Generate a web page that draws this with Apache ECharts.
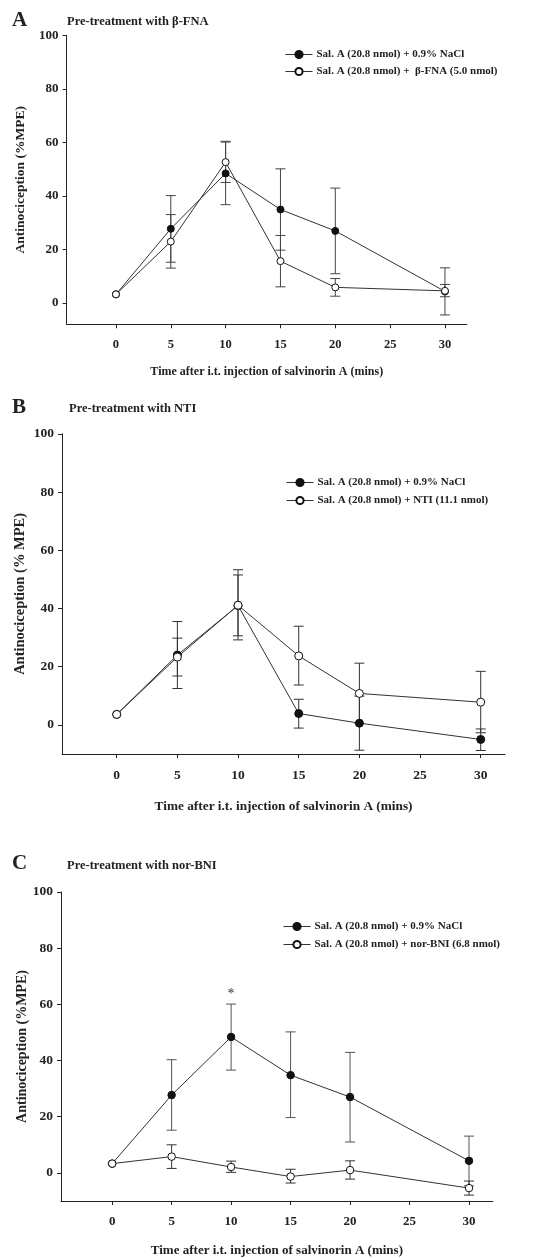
<!DOCTYPE html>
<html>
<head>
<meta charset="utf-8">
<script src="https://cdn.jsdelivr.net/npm/echarts@6/dist/echarts.min.js"></script>
<style>
html,body{margin:0;padding:0;background:#fff;}
#chart{width:541px;height:1258px;}
</style>
</head>
<body>
<div id="chart"></div>
<script>
// ---------- data ----------
const times = [0, 5, 10, 15, 20, 30];
const xTickLabels = [0, 5, 10, 15, 20, 25, 30];
const yTickLabels = [0, 20, 40, 60, 80, 100];

// Panel A : beta-FNA
const aNaClMean = [3.2, 27.7, 48.4, 34.9, 26.9, 4.3];
const aNaClLow  = [3.2, 15.2, 36.7, 19.7, 10.9, -4.5];
const aNaClHigh = [3.2, 40.1, 60.1, 50.1, 42.9, 13.1];
const aFnaMean  = [3.2, 22.9, 52.6, 15.6, 5.8, 4.5];
const aFnaLow   = [3.2, 13.0, 45.0, 6.0, 2.5, 2.3];
const aFnaHigh  = [3.2, 33.0, 60.4, 25.2, 9.1, 6.9];

// Panel B : NTI
const bNaClMean = [3.6, 24.0, 41.0, 3.9, 0.6, -5.0];
const bNaClLow  = [3.6, 16.8, 30.6, -1.1, -8.7, -8.8];
const bNaClHigh = [3.6, 29.8, 51.5, 8.8, 9.9, -1.4];
const bNtiMean  = [3.6, 23.3, 41.1, 23.7, 10.8, 7.8];
const bNtiLow   = [3.6, 12.5, 29.2, 13.7, 0.5, -2.7];
const bNtiHigh  = [3.6, 35.5, 53.3, 33.9, 21.2, 18.4];

// Panel C : nor-BNI
const cNaClMean = [3.3, 27.7, 48.4, 34.8, 27.0, 4.3];
const cNaClLow  = [3.3, 15.2, 36.6, 19.7, 11.0, -4.6];
const cNaClHigh = [3.3, 40.3, 60.1, 50.2, 42.9, 13.1];
const cBniMean  = [3.3, 5.8, 2.1, -1.3, 1.0, -5.4];
const cBniLow   = [3.3, 1.6, 0.2, -3.6, -2.2, -7.9];
const cBniHigh  = [3.3, 10.0, 4.2, 1.3, 4.3, -2.9];

const sigMark = {x: 10, y: 63.5, text: '*'};

const nameNaCl = 'Sal. A (20.8 nmol) + 0.9% NaCl';
const nameFna = 'Sal. A (20.8 nmol) +  β-FNA (5.0 nmol)';
const nameNti = 'Sal. A (20.8 nmol) + NTI (11.1 nmol)';
const nameBni = 'Sal. A (20.8 nmol) + nor-BNI (6.8 nmol)';

const xTitle = 'Time after i.t. injection of salvinorin A (mins)';

// ---------- helpers ----------
const FONT = 'Liberation Serif';
const INK = '#222';

function pairs(ys) { return times.map((t, i) => [t, ys[i]]); }
function errs(lo, hi) { return times.map((t, i) => [t, lo[i], hi[i]]); }

function errorSeries(idx, lo, hi, color) {
  return {
    type: 'custom', xAxisIndex: idx, yAxisIndex: idx, z: 1, silent: true,
    data: errs(lo, hi),
    encode: {x: 0, y: [1, 2]},
    renderItem: function (params, api) {
      const x = api.value(0), l = api.value(1), h = api.value(2);
      if (Math.abs(h - l) < 0.05) return null;
      const p1 = api.coord([x, l]), p2 = api.coord([x, h]);
      const hw = 5;
      const st = {stroke: color, lineWidth: 1};
      return {type: 'group', children: [
        {type: 'line', shape: {x1: p1[0], y1: p1[1], x2: p2[0], y2: p2[1]}, style: st},
        {type: 'line', shape: {x1: p1[0] - hw, y1: p1[1], x2: p1[0] + hw, y2: p1[1]}, style: st},
        {type: 'line', shape: {x1: p2[0] - hw, y1: p2[1], x2: p2[0] + hw, y2: p2[1]}, style: st}
      ]};
    }
  };
}

function lineSeries(idx, name, ys, filled, size) {
  return {
    type: 'line', name: name, xAxisIndex: idx, yAxisIndex: idx, z: 3,
    data: pairs(ys), symbol: 'circle', symbolSize: size, showSymbol: true,
    lineStyle: {color: '#333', width: 1},
    itemStyle: filled ? {color: '#111', borderColor: '#111', borderWidth: 1}
                      : {color: '#fff', borderColor: '#111', borderWidth: 1},
    emphasis: {disabled: true}
  };
}

function xAxisCfg(idx, min, fs, nameFs, nameGap, margin) {
  return {
    type: 'value', gridIndex: idx, min: min, max: 32,
    axisLine: {show: true, onZero: false, lineStyle: {color: INK, width: 1}},
    axisTick: {show: true, length: 4, customValues: xTickLabels, lineStyle: {color: INK}},
    axisLabel: {customValues: xTickLabels, margin: margin, fontFamily: FONT, fontWeight: 'bold', fontSize: fs, color: INK},
    splitLine: {show: false},
    name: xTitle, nameLocation: 'middle', nameGap: nameGap, nameMoveOverlap: false,
    nameTextStyle: {fontFamily: FONT, fontWeight: 'bold', fontSize: nameFs, color: INK}
  };
}

function yAxisCfg(idx, min, name, fs, nameFs, nameGap) {
  return {
    type: 'value', gridIndex: idx, min: min, max: 100,
    axisLine: {show: true, onZero: false, lineStyle: {color: INK, width: 1}},
    axisTick: {show: true, length: 4, customValues: yTickLabels, lineStyle: {color: INK}},
    axisLabel: {customValues: yTickLabels, margin: 8, fontFamily: FONT, fontWeight: 'bold', fontSize: fs, color: INK},
    splitLine: {show: false},
    name: name, nameLocation: 'middle', nameGap: nameGap, nameMoveOverlap: false,
    nameTextStyle: {fontFamily: FONT, fontWeight: 'bold', fontSize: nameFs, color: INK}
  };
}

function legendCfg(left, top, gap, names) {
  return {
    orient: 'vertical', left: left, top: top, itemWidth: 27, itemHeight: 9, itemGap: gap,
    padding: 0, selectedMode: false, data: names,
    lineStyle: {width: 1, color: '#333'},
    textStyle: {fontFamily: FONT, fontWeight: 'bold', fontSize: 11, color: INK, padding: [0, 0, 0, -1]}
  };
}

function titleCfg(text, left, top, fs) {
  return {text: text, left: left, top: top, padding: 0,
    textStyle: {fontFamily: FONT, fontWeight: 'bold', fontSize: fs, color: INK}};
}

const chart = echarts.init(document.getElementById('chart'), null, {renderer: 'canvas'});

const option = {
  animation: false,
  backgroundColor: '#fff',
  title: [
    titleCfg('A', 12, 10, 21),
    titleCfg('Pre-treatment with β-FNA', 67, 15, 12.5),
    titleCfg('B', 12, 397, 21),
    titleCfg('Pre-treatment with NTI', 69, 402, 12.5),
    titleCfg('C', 12, 853, 21),
    titleCfg('Pre-treatment with nor-BNI', 67, 859, 12.5)
  ],
  legend: [
    legendCfg(285, 49, 6, [nameNaCl, nameFna]),
    legendCfg(286, 477, 7, [nameNaCl, nameNti]),
    legendCfg(283, 921, 7, [nameNaCl, nameBni])
  ],
  grid: [
    {left: 66.6, top: 35.3, width: 400.3, height: 289},
    {left: 62.1, top: 433.8, width: 442.9, height: 320.2},
    {left: 61, top: 892, width: 431.8, height: 314.3}
  ],
  xAxis: [
    xAxisCfg(0, -4.5, 12.5, 12, 42, 14),
    xAxisCfg(1, -4.5, 13.5, 13.3, 46, 15),
    xAxisCfg(2, -4.3, 13, 13, 43, 14)
  ],
  yAxis: [
    yAxisCfg(0, -8, 'Antinociception (%MPE)', 13, 13.5, 39),
    yAxisCfg(1, -10, 'Antinociception (% MPE)', 13.5, 14.5, 34),
    yAxisCfg(2, -10, 'Antinociception (%MPE)', 13.5, 14, 32)
  ],
  series: [
    errorSeries(0, aNaClLow, aNaClHigh, '#444'),
    errorSeries(0, aFnaLow, aFnaHigh, '#444'),
    lineSeries(0, nameNaCl, aNaClMean, true, 7),
    lineSeries(0, nameFna, aFnaMean, false, 7),

    errorSeries(1, bNaClLow, bNaClHigh, '#333'),
    errorSeries(1, bNtiLow, bNtiHigh, '#333'),
    lineSeries(1, nameNaCl, bNaClMean, true, 8),
    lineSeries(1, nameNti, bNtiMean, false, 8),

    errorSeries(2, cNaClLow, cNaClHigh, '#555'),
    errorSeries(2, cBniLow, cBniHigh, '#333'),
    Object.assign(lineSeries(2, nameNaCl, cNaClMean, true, 7.5), {
      markPoint: {
        symbol: 'circle', symbolSize: 1, itemStyle: {color: 'rgba(0,0,0,0)'},
        label: {show: true, position: 'inside', formatter: sigMark.text,
          fontFamily: FONT, fontSize: 14, color: '#333'},
        data: [{coord: [sigMark.x, sigMark.y], value: sigMark.text}]
      }
    }),
    lineSeries(2, nameBni, cBniMean, false, 7.5)
  ]
};
chart.setOption(option);
</script>
</body>
</html>
